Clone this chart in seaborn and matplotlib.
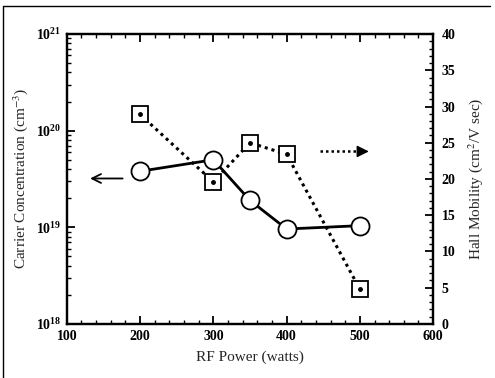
import numpy as np
import pandas as pd
import matplotlib
matplotlib.use("Agg")
import matplotlib.pyplot as plt
import seaborn as sns
from matplotlib.ticker import LogLocator, MultipleLocator, FixedLocator, NullFormatter, LogFormatterSciNotation
from matplotlib.lines import Line2D

rf_power = [200, 300, 350, 400, 500]
carrier_conc = [3.8e19, 5.0e19, 1.9e19, 9.6e18, 1.04e19]
hall_mobility = [28.9, 19.6, 25.0, 23.4, 4.8]
x_ticks = [100, 200, 300, 400, 500, 600]
mob_ticks = [0, 5, 10, 15, 20, 25, 30, 35, 40]

sns.set_theme(style="ticks")
plt.rcParams['font.family'] = ['Liberation Serif', 'DejaVu Serif']
plt.rcParams['mathtext.fontset'] = 'stix'

fig = plt.figure(figsize=(4.95, 3.78), dpi=100)
ax = fig.add_axes([0.135, 0.143, 0.740, 0.767])
ax2 = ax.twinx()

df_c = pd.DataFrame({"power": rf_power, "conc": carrier_conc})
df_m = pd.DataFrame({"power": rf_power, "mob": hall_mobility})

sns.lineplot(data=df_c, x="power", y="conc", ax=ax, color="black", linewidth=2.0,
             marker="o", markersize=13, markerfacecolor="white",
             markeredgecolor="black", markeredgewidth=1.3, zorder=3)
sns.lineplot(data=df_m, x="power", y="mob", ax=ax2, color="black", linewidth=2.2,
             linestyle=(0, (1, 1.3)), marker="s", markersize=11.5,
             markerfacecolor="white", markeredgecolor="black", markeredgewidth=1.3, zorder=3)
ax2.plot(df_m["power"], df_m["mob"], linestyle="none", marker="o", markersize=2.5,
         color="black", zorder=4)

ax.set_xlim(100, 600)
ax.set_yscale("log")
ax.set_ylim(1e18, 1e21)
ax2.set_ylim(0, 40)

ax.xaxis.set_major_locator(FixedLocator(x_ticks))
ax.xaxis.set_minor_locator(MultipleLocator(20))
ax.yaxis.set_major_locator(LogLocator(base=10, numticks=10))
ax.yaxis.set_minor_locator(LogLocator(base=10, subs=np.arange(2, 10), numticks=10))
ax.yaxis.set_minor_formatter(NullFormatter())
ax.yaxis.set_major_formatter(LogFormatterSciNotation())
ax2.yaxis.set_major_locator(FixedLocator(mob_ticks))
ax2.yaxis.set_minor_locator(MultipleLocator(1))

for a in (ax, ax2):
    for s in a.spines.values():
        s.set_linewidth(1.6)
        s.set_color("black")
ax.tick_params(axis="both", which="major", direction="in", length=6, width=1.3,
               labelsize=10, top=True, pad=4, colors="black")
ax.tick_params(axis="both", which="minor", direction="in", length=3, width=1.0,
               top=True, colors="black")
ax.tick_params(axis="y", which="both", right=False)
ax2.tick_params(axis="y", which="major", direction="in", length=6, width=1.3,
                labelsize=10, pad=6, colors="black")
ax2.tick_params(axis="y", which="minor", direction="in", length=3, width=1.0, colors="black")
for lab in ax.get_xticklabels() + ax.get_yticklabels() + ax2.get_yticklabels():
    lab.set_fontweight("bold")

ax.set_xlabel("RF Power (watts)", fontsize=11, labelpad=6)
ax.set_ylabel("Carrier Concentration (cm$^{-3}$)", fontsize=11, labelpad=4)
ax2.set_ylabel("Hall Mobility (cm$^2$/V sec)", fontsize=11, labelpad=8)
ax.grid(False)
ax2.grid(False)

# direction arrows
ax.annotate("", xy=(128, 3.2e19), xytext=(180, 3.2e19),
            arrowprops=dict(arrowstyle="->", color="black", lw=1.3, mutation_scale=16))
ax2.plot([446, 505], [23.8, 23.8], color="black", lw=1.8, linestyle=(0, (1, 1.2)))
ax2.annotate("", xy=(516, 23.8), xytext=(504, 23.8),
             arrowprops=dict(arrowstyle="-|>", color="black", lw=1.0, mutation_scale=18))

# frame lines (top and left) of the scanned figure
fig.add_artist(Line2D([0.006, 0.99], [0.984, 0.984], color="black", lw=1.0,
                      transform=fig.transFigure))
fig.add_artist(Line2D([0.006, 0.006], [0.0, 0.984], color="black", lw=1.0,
                      transform=fig.transFigure))

fig.savefig("out.png", dpi=100)
